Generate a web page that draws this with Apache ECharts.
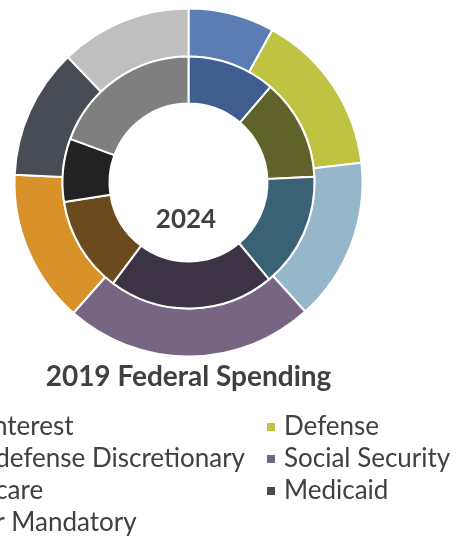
<!DOCTYPE html>
<html>
<head>
<meta charset="utf-8">
<script src="https://cdn.jsdelivr.net/npm/echarts@6/dist/echarts.min.js"></script>
<style>
  html, body { margin: 0; padding: 0; background: #ffffff; }
  #chart { width: 461px; height: 539px; }
</style>
</head>
<body>
<div id="chart"></div>
<script>
// Spending categories, clockwise from 12 o'clock
const categories = ['Net Interest', 'Defense', 'Non-defense Discretionary', 'Social Security', 'Medicare', 'Medicaid', 'Other Mandatory'];
// Share of federal spending (%)
const share2019 = [8.0, 15.2, 15.1, 23.2, 14.2, 12.1, 12.2];
const share2024 = [11.3, 13.0, 14.7, 21.3, 12.3, 8.1, 19.4];
const colors2019 = ['#5b7db3', '#bec341', '#95b7c9', '#766684', '#d9912a', '#484c55', '#bfbfbf'];
const colors2024 = ['#3f5e8f', '#5f6329', '#3a6274', '#3c3344', '#6b4a1e', '#222222', '#7f7f7f'];
const legendLeftCol = ['Net Interest', 'Non-defense Discretionary', 'Medicare', 'Other Mandatory'];
const legendRightCol = ['Defense', 'Social Security', 'Medicaid'];

const font = 'Lato, "Open Sans", sans-serif';
const textColor = '#404040';

function ring(values, palette) {
  return categories.map((name, i) => ({ name, value: values[i], itemStyle: { color: palette[i] } }));
}

const legendBase = {
  orient: 'vertical',
  icon: 'rect',
  itemWidth: 10,
  itemHeight: 10,
  itemGap: 6,
  selectedMode: false,
  textStyle: { fontFamily: font, fontSize: 26, lineHeight: 26, color: textColor, padding: [0, 0, 0, 3] },
  padding: 0
};

const chart = echarts.init(document.getElementById('chart'), null, { renderer: 'canvas' });
chart.setOption({
  animation: false,
  backgroundColor: '#ffffff',
  title: [
    {
      text: '2019 Federal Spending',
      left: 188.5, top: 363, textAlign: 'center', padding: 0,
      textStyle: { fontFamily: font, fontSize: 28, lineHeight: 28, fontWeight: 'bold', color: textColor }
    },
    {
      text: '2024',
      left: 186, top: 207, textAlign: 'center', padding: 0,
      textStyle: { fontFamily: font, fontSize: 26, lineHeight: 26, fontWeight: 'bold', color: textColor }
    }
  ],
  legend: [
    Object.assign({ data: legendLeftCol, right: 216, top: 414 }, legendBase),
    Object.assign({ data: legendRightCol, left: 265, top: 414 }, legendBase)
  ],
  series: [
    {
      name: '2019', type: 'pie',
      center: [188.5, 182.5], radius: [126, 174],
      startAngle: 90, clockwise: true,
      label: { show: false }, labelLine: { show: false },
      emphasis: { disabled: true },
      itemStyle: { borderColor: '#ffffff', borderWidth: 2 },
      data: ring(share2019, colors2019)
    },
    {
      name: '2024', type: 'pie',
      center: [188.5, 182.5], radius: [79, 126],
      startAngle: 90, clockwise: true,
      label: { show: false }, labelLine: { show: false },
      emphasis: { disabled: true },
      itemStyle: { borderColor: '#ffffff', borderWidth: 2 },
      data: ring(share2024, colors2024)
    }
  ]
});
</script>
</body>
</html>
